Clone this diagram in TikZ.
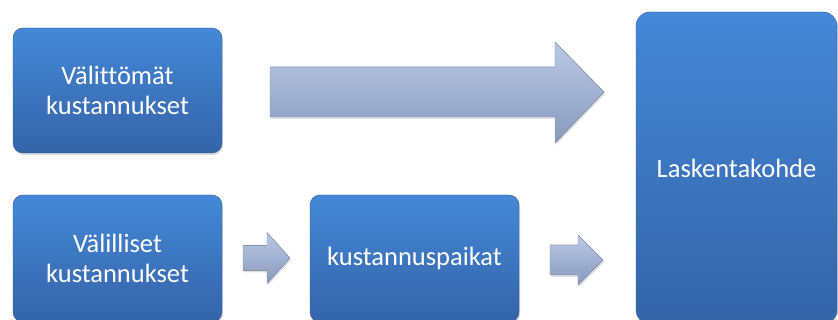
\documentclass[tikz,border=0pt]{standalone}
\usepackage{fontspec}
\setmainfont{Carlito}[Ligatures=NoCommon]
\usetikzlibrary{shadows}
\definecolor{boxtop}{RGB}{68,136,215}
\definecolor{boxbot}{RGB}{52,100,168}
\definecolor{boxline}{RGB}{47,90,150}
\definecolor{arrtop}{RGB}{186,201,229}
\definecolor{arrmid}{RGB}{164,182,216}
\definecolor{arrbot}{RGB}{136,153,190}
\definecolor{arrline}{RGB}{128,145,182}
\tikzstyle{costbox} = [rounded corners=10pt, top color=boxtop, bottom color=boxbot,
	draw=boxline, text=white, align=center, inner sep=0pt,
	font=\fontsize{26.5}{29.5}\selectfont,
	drop shadow={opacity=0.3,shadow xshift=1pt,shadow yshift=-2pt}]
\tikzstyle{blockarrow} = [top color=arrtop, middle color=arrmid, bottom color=arrbot,
	draw=arrline, line join=round,
	drop shadow={opacity=0.25,shadow xshift=1pt,shadow yshift=-2pt}]

\begin{document}
\begin{tikzpicture}[x=1pt,y=1pt]
	\useasboundingbox (0,0) rectangle (838,320);
	% cost boxes
	\node[costbox, minimum width=209pt, minimum height=125pt] (direct) at (117.5,229.5) {Välittömät\\kustannukset};
	\node[costbox, minimum width=209pt, minimum height=127pt] (indirect) at (117.5,61.5) {Välilliset\\kustannukset};
	\node[costbox, minimum width=209pt, minimum height=127pt] (centres) at (414.5,61.5) {kustannuspaikat};
	\node[costbox, rounded corners=14pt, minimum width=201pt, minimum height=312pt] (target) at (736.5,152) {Laskentakohde};
	% block arrows
	\filldraw[blockarrow] (270,203) -- (270,253) -- (555,253) -- (555,278)
		-- (604,228) -- (555,177) -- (555,203) -- cycle;
	\filldraw[blockarrow] (243,49.5) -- (243,74.5) -- (267,74.5) -- (267,87.5)
		-- (290,62) -- (267,36.5) -- (267,49.5) -- cycle;
	\filldraw[blockarrow] (550,45) -- (550,75) -- (578,75) -- (578,85)
		-- (603,60) -- (578,35) -- (578,45) -- cycle;
\end{tikzpicture}
\end{document}
